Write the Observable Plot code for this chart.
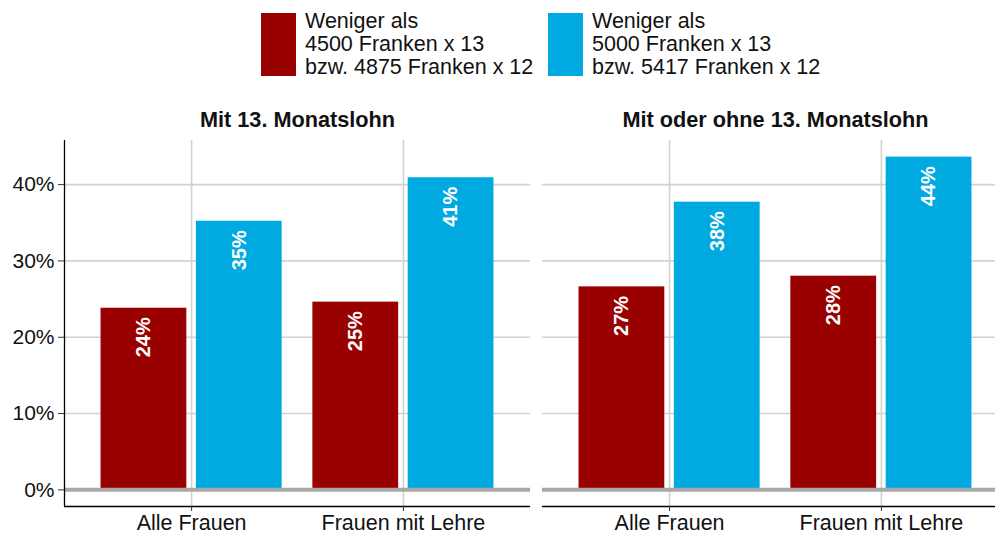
<!DOCTYPE html>
<html><head><meta charset="utf-8">
<script src="https://cdn.jsdelivr.net/npm/d3@7"></script>
<script src="https://cdn.jsdelivr.net/npm/@observablehq/plot@0.6"></script>
<style>
html,body{margin:0;padding:0;background:#fff;overflow:hidden;width:995px;height:535px;}
body{font-family:"Liberation Sans",Arial,sans-serif;color:#111;}
#legend{position:relative;height:90px;width:995px;}
.item{position:absolute;top:13px;display:flex;align-items:flex-start;}
.sw{width:35px;height:63px;flex:none;}
.lab{margin-left:9px;font-size:21.5px;line-height:23px;margin-top:-3px;white-space:nowrap;}
#chart{width:1008px;}
#chart svg{display:block;max-width:none !important;}
</style></head><body>
<div id="legend"></div><div id="chart"></div>
<script>
const panels = ["Mit 13. Monatslohn", "Mit oder ohne 13. Monatslohn"];
const categories = ["Alle Frauen", "Frauen mit Lehre"];
const seriesNames = ["unter4500", "unter5000"];
const seriesLabels = [
  ["Weniger als", "4500 Franken x 13", "bzw. 4875 Franken x 12"],
  ["Weniger als", "5000 Franken x 13", "bzw. 5417 Franken x 12"]
];
const seriesColors = ["#990000", "#00A9E0"];
// order: panel1/cat1, panel1/cat2, panel2/cat1, panel2/cat2
const lowValues = [23.8, 24.6, 26.6, 28.0];
const highValues = [35.2, 40.9, 37.7, 43.6];
const yTicks = [0, 10, 20, 30, 40];

// legend
const legend = document.getElementById("legend");
const legendLeft = [261, 548];
seriesNames.forEach((s, i) => {
  const it = document.createElement("div");
  it.className = "item";
  it.style.left = legendLeft[i] + "px";
  it.innerHTML = `<div class="sw" style="background:${seriesColors[i]}"></div><div class="lab">${seriesLabels[i].join("<br>")}</div>`;
  legend.appendChild(it);
});

const rows = [];
panels.forEach((p, pi) => categories.forEach((c, ci) => {
  const k = pi * 2 + ci;
  rows.push({panel: p, category: c, catIndex: ci + 1, series: 0, name: seriesNames[0], value: lowValues[k]});
  rows.push({panel: p, category: c, catIndex: ci + 1, series: 1, name: seriesNames[1], value: highValues[k]});
}));

const vMax = d3.max(rows, d => d.value);
const yDomain = [-0.05 * vMax, vMax * 1.05];
const xDomain = [0.4, categories.length + 0.6];
const half = 0.45, pad = 0.0225;
const bx1 = d => d.catIndex + (d.series === 0 ? -half + pad : pad);
const bx2 = d => d.catIndex + (d.series === 0 ? -pad : half - pad);

const chart = Plot.plot({
  width: 1008, height: 445,
  marginLeft: 64, marginRight: 0, marginTop: 50, marginBottom: 29,
  style: {fontFamily: "Liberation Sans, Arial, sans-serif", fontSize: "21px", color: "#111", background: "white", overflow: "visible", maxWidth: "none"},
  fx: {domain: panels, paddingInner: 0.025, paddingOuter: 0, round: false, axis: null},
  x: {domain: xDomain, axis: null},
  y: {domain: yDomain, axis: null},
  color: {domain: seriesNames, range: seriesColors},
  marks: [
    Plot.gridY({ticks: yTicks, stroke: "#d2d2d2", strokeOpacity: 1, strokeWidth: 1.6}),
    Plot.gridX({ticks: categories.map((c, i) => i + 1), stroke: "#d2d2d2", strokeOpacity: 1, strokeWidth: 1.6}),
    Plot.rectY(rows, {fx: "panel", x1: bx1, x2: bx2, y1: 0, y2: "value", fill: "name"}),
    Plot.ruleY([0], {stroke: "#a8a8a8", strokeWidth: 4}),
    Plot.text(rows, {fx: "panel", x: d => (bx1(d) + bx2(d)) / 2, y: "value", text: d => Math.round(d.value) + "%",
      rotate: -90, textAnchor: "end", lineAnchor: "middle", dy: 9, fill: "white", fontWeight: "bold", fontSize: 20}),
    Plot.ruleY([yDomain[0]], {stroke: "#000", strokeWidth: 1.3}),
    Plot.ruleX([panels[0]], {fx: d => d, x: () => xDomain[0], stroke: "#000", strokeWidth: 1.3}),
    Plot.axisY({ticks: yTicks, tickFormat: d => d + "%", tickSize: 6, tickPadding: 4, fontSize: 21, stroke: "#333", label: null}),
    Plot.axisX({ticks: categories.map((c, i) => i + 1), tickFormat: i => categories[i - 1], tickSize: 5, tickPadding: 3, fontSize: 21.5, stroke: "#333", label: null}),
    Plot.text(panels, {fx: d => d, text: d => d, frameAnchor: "top", dy: -29, fontWeight: "bold", fontSize: 21.7, fill: "#111"})
  ]
});
document.getElementById("chart").appendChild(chart);
</script>
</body></html>
